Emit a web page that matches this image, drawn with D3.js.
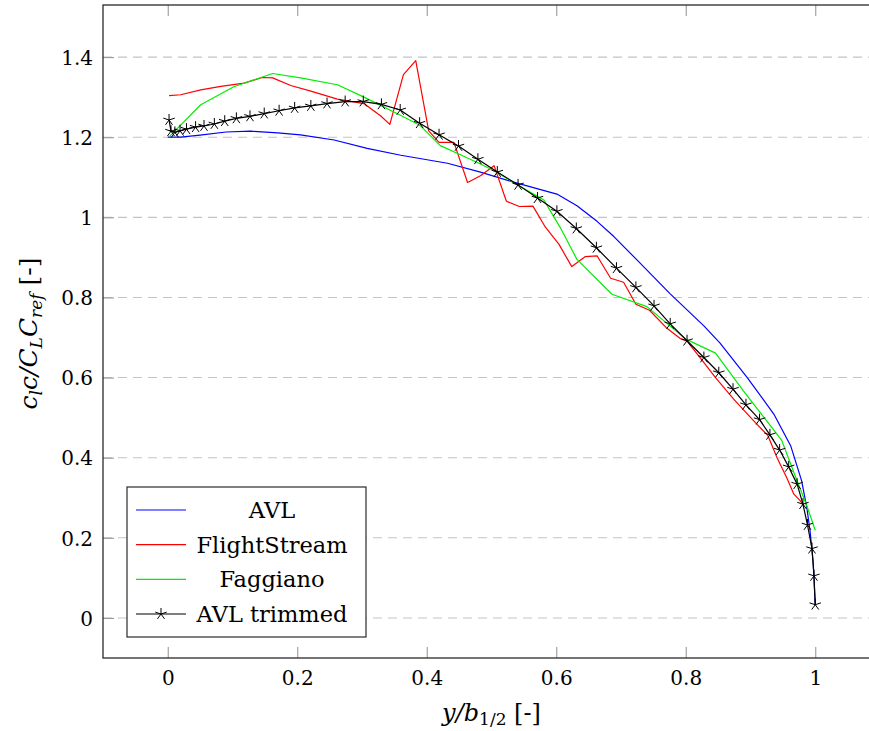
<!DOCTYPE html>
<html>
<head>
<meta charset="utf-8">
<script src="https://cdn.jsdelivr.net/npm/d3@7"></script>
<style>
  body { margin: 0; background: #fff; }
  svg { display: block; font-family: "DejaVu Serif", serif; }
</style>
</head>
<body>
<div id="chart"></div>
<script>
const width = 869;
const height = 731;

// series: [y/b, cl c / CL Cref]
const avl = [
  [0.000, 1.200], [0.020, 1.200], [0.050, 1.205], [0.090, 1.213], [0.128, 1.215],
  [0.170, 1.211], [0.205, 1.206], [0.257, 1.193], [0.308, 1.172], [0.360, 1.155],
  [0.432, 1.135], [0.483, 1.113], [0.534, 1.088], [0.601, 1.058], [0.632, 1.029],
  [0.663, 0.990], [0.689, 0.952], [0.725, 0.893], [0.776, 0.809], [0.828, 0.729],
  [0.853, 0.686], [0.895, 0.600], [0.936, 0.509], [0.962, 0.430], [0.979, 0.342],
  [0.987, 0.275], [0.992, 0.217], [0.997, 0.134], [1.000, 0.033]
];

const flightStream = [
  [0.002, 1.304], [0.020, 1.306], [0.051, 1.318], [0.082, 1.327], [0.118, 1.335],
  [0.146, 1.349], [0.162, 1.348], [0.190, 1.329], [0.221, 1.315], [0.262, 1.295],
  [0.303, 1.284], [0.329, 1.253], [0.343, 1.232], [0.364, 1.356], [0.383, 1.391],
  [0.403, 1.216], [0.419, 1.187], [0.442, 1.187], [0.463, 1.087], [0.483, 1.104],
  [0.504, 1.129], [0.523, 1.040], [0.543, 1.027], [0.564, 1.028], [0.583, 0.976],
  [0.604, 0.933], [0.624, 0.877], [0.645, 0.902], [0.663, 0.904], [0.684, 0.848],
  [0.704, 0.838], [0.723, 0.783], [0.744, 0.768], [0.771, 0.723], [0.792, 0.697],
  [0.802, 0.691], [0.823, 0.648], [0.846, 0.600], [0.874, 0.546], [0.905, 0.492],
  [0.927, 0.455], [0.941, 0.400], [0.956, 0.350], [0.967, 0.309], [0.977, 0.292],
  [0.982, 0.280]
];

const faggiano = [
  [0.002, 1.201], [0.051, 1.281], [0.102, 1.326], [0.162, 1.359], [0.205, 1.348],
  [0.262, 1.331], [0.303, 1.300], [0.360, 1.254], [0.390, 1.229], [0.421, 1.179],
  [0.452, 1.156], [0.483, 1.133], [0.509, 1.112], [0.540, 1.081], [0.581, 1.043],
  [0.606, 0.975], [0.632, 0.895], [0.686, 0.808], [0.740, 0.777], [0.800, 0.696],
  [0.846, 0.661], [0.889, 0.567], [0.922, 0.498], [0.948, 0.444], [0.972, 0.342],
  [0.987, 0.280], [1.000, 0.219]
];

const avlTrimmed = [
  [0.002, 1.243], [0.005, 1.215], [0.011, 1.212], [0.019, 1.216], [0.029, 1.220],
  [0.043, 1.225], [0.056, 1.228], [0.072, 1.233], [0.088, 1.240], [0.106, 1.247],
  [0.127, 1.252], [0.149, 1.259], [0.172, 1.266], [0.196, 1.273], [0.221, 1.278],
  [0.246, 1.284], [0.274, 1.289], [0.302, 1.289], [0.330, 1.282], [0.359, 1.268],
  [0.389, 1.235], [0.419, 1.206], [0.449, 1.178], [0.479, 1.145], [0.509, 1.113],
  [0.541, 1.081], [0.571, 1.048], [0.601, 1.015], [0.631, 0.972], [0.662, 0.924],
  [0.693, 0.873], [0.723, 0.825], [0.751, 0.779], [0.776, 0.734], [0.802, 0.692],
  [0.828, 0.650], [0.851, 0.612], [0.873, 0.571], [0.893, 0.532], [0.914, 0.495],
  [0.930, 0.457], [0.945, 0.419], [0.959, 0.377], [0.972, 0.334], [0.981, 0.284],
  [0.988, 0.232], [0.995, 0.173], [0.998, 0.105], [1.000, 0.033]
];

const xTicks = [0, 0.2, 0.4, 0.6, 0.8, 1];
const yTicks = [0, 0.2, 0.4, 0.6, 0.8, 1, 1.2, 1.4];

const series = [
  { name: "AVL", data: avl, color: "#0000ff", star: false },
  { name: "FlightStream", data: flightStream, color: "#ff0000", star: false },
  { name: "Faggiano", data: faggiano, color: "#00ee00", star: false },
  { name: "AVL trimmed", data: avlTrimmed, color: "#000000", star: true }
];

const margin = { left: 103, top: 5, right: 880, bottom: 658 };

const x = d3.scaleLinear().domain([-0.1, 1.1]).range([margin.left, margin.right]);
const y = d3.scaleLinear().domain([-0.1, 1.53]).range([margin.bottom, margin.top]);

const svg = d3.select("#chart")
    .append("svg")
    .attr("width", width)
    .attr("height", height);

svg.append("defs").append("clipPath")
    .attr("id", "plotClip")
    .append("rect")
    .attr("x", margin.left)
    .attr("y", margin.top)
    .attr("width", margin.right - margin.left)
    .attr("height", margin.bottom - margin.top);

// dashed horizontal grid
svg.append("g")
    .selectAll("line")
    .data(yTicks)
    .join("line")
    .attr("x1", margin.left)
    .attr("x2", margin.right)
    .attr("y1", d => y(d))
    .attr("y2", d => y(d))
    .attr("stroke", "#c4c4c4")
    .attr("stroke-width", 1.1)
    .attr("stroke-dasharray", "9,6");

// tick marks (inside), gray like pgfplots
const tickLen = 11;
const bottomAxis = svg.append("g")
    .attr("transform", `translate(0,${margin.bottom})`)
    .call(d3.axisBottom(x).tickValues(xTicks).tickSizeInner(-tickLen).tickSizeOuter(0).tickFormat(d3.format("~g")));
const topAxis = svg.append("g")
    .attr("transform", `translate(0,${margin.top})`)
    .call(d3.axisTop(x).tickValues(xTicks).tickSizeInner(-tickLen).tickSizeOuter(0).tickFormat(""));
const leftAxis = svg.append("g")
    .attr("transform", `translate(${margin.left},0)`)
    .call(d3.axisLeft(y).tickValues(yTicks).tickSizeInner(-tickLen).tickSizeOuter(0).tickFormat(d3.format("~g")));

[bottomAxis, topAxis, leftAxis].forEach(a => {
    a.select(".domain").remove();
    a.selectAll(".tick line").attr("stroke", "#9a9a9a").attr("stroke-width", 1.1);
    a.selectAll(".tick text")
        .attr("font-family", "DejaVu Serif, serif")
        .attr("font-size", 20)
        .attr("fill", "#000");
});
bottomAxis.selectAll(".tick text").attr("dy", null).attr("y", 27);
leftAxis.selectAll(".tick text").attr("x", -10).attr("dy", "0.36em");

// curves
const line = d3.line().x(d => x(d[0])).y(d => y(d[1]));
const plot = svg.append("g").attr("clip-path", "url(#plotClip)");

const starPath = r => d3.range(5).map(k => {
    const a = (-90 + 72 * k) * Math.PI / 180;
    return `M0,0L${(r * Math.cos(a)).toFixed(2)},${(r * Math.sin(a)).toFixed(2)}`;
}).join("");

series.forEach(s => {
    plot.append("path")
        .datum(s.data)
        .attr("fill", "none")
        .attr("stroke", s.color)
        .attr("stroke-width", 1.2)
        .attr("stroke-linejoin", "round")
        .attr("d", line);
    if (s.star) {
        plot.append("g")
            .selectAll("path")
            .data(s.data)
            .join("path")
            .attr("transform", d => `translate(${x(d[0])},${y(d[1])})`)
            .attr("d", starPath(6))
            .attr("stroke", "#000")
            .attr("stroke-width", 1)
            .attr("fill", "none");
    }
});

// frame
svg.append("rect")
    .attr("x", margin.left)
    .attr("y", margin.top)
    .attr("width", margin.right - margin.left)
    .attr("height", margin.bottom - margin.top)
    .attr("fill", "none")
    .attr("stroke", "#2a2a2a")
    .attr("stroke-width", 1.3);

// legend
const legend = svg.append("g");
legend.append("rect")
    .attr("x", 127)
    .attr("y", 487)
    .attr("width", 239)
    .attr("height", 150)
    .attr("fill", "#fff")
    .attr("stroke", "#2a2a2a")
    .attr("stroke-width", 1.2);

const rowY = d3.scalePoint().domain(series.map(s => s.name)).range([510, 614]);
series.forEach(s => {
    const yy = rowY(s.name);
    legend.append("line")
        .attr("x1", 136).attr("x2", 186)
        .attr("y1", yy).attr("y2", yy)
        .attr("stroke", s.color)
        .attr("stroke-width", 1.2);
    if (s.star) {
        legend.append("path")
            .attr("transform", `translate(161,${yy})`)
            .attr("d", starPath(6))
            .attr("stroke", "#000")
            .attr("stroke-width", 1)
            .attr("fill", "none");
    }
    legend.append("text")
        .attr("x", 272)
        .attr("y", yy)
        .attr("dy", "0.36em")
        .attr("text-anchor", "middle")
        .attr("font-size", 22.5)
        .text(s.name);
});

// axis titles
const xTitle = svg.append("text")
    .attr("x", (margin.left + margin.right) / 2)
    .attr("y", 721)
    .attr("text-anchor", "middle")
    .attr("font-size", 24);
xTitle.append("tspan").attr("font-style", "italic").text("y/b");
xTitle.append("tspan").attr("font-size", 17).attr("dy", 4).text("1/2");
xTitle.append("tspan").attr("dy", -4).text(" [-]");

const yTitle = svg.append("text")
    .attr("transform", `translate(37,${(margin.top + margin.bottom) / 2 + 2}) rotate(-90)`)
    .attr("text-anchor", "middle")
    .attr("font-size", 25);
yTitle.append("tspan").attr("font-style", "italic").text("c");
yTitle.append("tspan").attr("font-style", "italic").attr("font-size", 17).attr("dy", 5).text("l");
yTitle.append("tspan").attr("font-style", "italic").attr("dy", -5).text("c/C");
yTitle.append("tspan").attr("font-style", "italic").attr("font-size", 17).attr("dy", 5).text("L");
yTitle.append("tspan").attr("font-style", "italic").attr("dy", -5).text("C");
yTitle.append("tspan").attr("font-style", "italic").attr("font-size", 17).attr("dy", 5).text("ref");
yTitle.append("tspan").attr("dy", -5).text(" [-]");
</script>
</body>
</html>
